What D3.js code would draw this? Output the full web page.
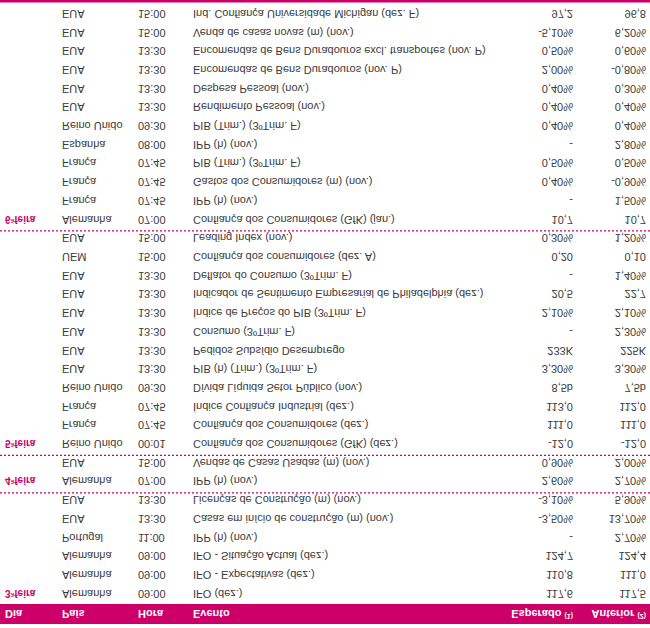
<!DOCTYPE html>
<html>
<head>
<meta charset="utf-8">
<script src="https://cdn.jsdelivr.net/npm/d3@7"></script>
<style>
  html, body { margin: 0; padding: 0; background: #fff; }
  svg { display: block; }
</style>
</head>
<body>
<div id="chart"></div>
<script>
// ---- data (table order, top to bottom before the vertical flip) ----
const headers = ["Dia", "País", "Hora", "Evento", "Esperado", "Anterior"];
const headerNotes = ["", "", "", "", "(1)", "(2)"];

const days = [
  "3ªfeira","","","","","",
  "4ªfeira","",
  "5ªfeira","","","","","","","","","","","",
  "6ªfeira","","","","","","","","","","",""
];
const countries = [
  "Alemanha","Alemanha","Alemanha","Portugal","EUA","EUA",
  "Alemanha","EUA",
  "Reino Unido","França","França","Reino Unido","EUA","EUA","EUA","EUA","EUA","EUA","UEM","EUA",
  "Alemanha","França","França","França","Espanha","Reino Unido","EUA","EUA","EUA","EUA","EUA","EUA"
];
const times = [
  "09:00","09:00","09:00","11:00","13:30","13:30",
  "07:00","15:00",
  "00:01","07:45","07:45","09:30","13:30","13:30","13:30","13:30","13:30","13:30","15:00","15:00",
  "07:00","07:45","07:45","07:45","08:00","09:30","13:30","13:30","13:30","13:30","15:00","15:00"
];
const events = [
  "IFO (dez.)",
  "IFO - Expectativas (dez.)",
  "IFO - Situação Actual (dez.)",
  "IPP (h) (nov.)",
  "Casas em início de construção (m) (nov.)",
  "Licenças de Construção (m) (nov.)",
  "IPP (h) (nov.)",
  "Vendas de Casas Usadas (m) (nov.)",
  "Confiança dos Consumidores (GfK) (dez.)",
  "Confiança dos Consumidores (dez.)",
  "Índice Confiança Industrial (dez.)",
  "Dívida Líquida Setor Público (nov.)",
  "PIB (h) (Trim.) (3ºTrim. F)",
  "Pedidos Subsídio Desemprego",
  "Consumo (3ºTrim. F)",
  "Índice de Preços do PIB (3ºTrim. F)",
  "Indicador de Sentimento Empresarial de Philadelphia (dez.)",
  "Deflator do Consumo (3ºTrim. F)",
  "Confiança dos consumidores (dez. A)",
  "Leading Index (nov.)",
  "Confiança dos Consumidores (GfK) (jan.)",
  "IPP (h) (nov.)",
  "Gastos dos Consumidores (m) (nov.)",
  "PIB (Trim.) (3ºTrim. F)",
  "IPP (h) (nov.)",
  "PIB (Trim.) (3ºTrim. F)",
  "Rendimento Pessoal (nov.)",
  "Despesa Pessoal (nov.)",
  "Encomendas de Bens Duradouros (nov. P)",
  "Encomendas de Bens Duradouros excl. transportes (nov. P)",
  "Venda de casas novas (m) (nov.)",
  "Ind. Confiança Universidade Michigan (dez. F)"
];
const expected = [
  "117,6","110,8","124,7","-","-3,50%","-3,10%",
  "2,60%","0,90%",
  "-12,0","111,0","113,0","8,5b","3,30%","233K","-","2,10%","20,5","-","0,20","0,30%",
  "10,7","-","0,40%","0,50%","-","0,40%","0,40%","0,40%","2,00%","0,50%","-5,10%","97,2"
];
const previous = [
  "117,5","111,0","124,4","2,70%","13,70%","5,90%",
  "2,70%","2,00%",
  "-12,0","111,0","112,0","7,5b","3,30%","225K","2,30%","2,10%","22,7","1,40%","0,10","1,20%",
  "10,7","1,50%","-0,90%","0,50%","2,80%","0,40%","0,40%","0,30%","-0,80%","0,60%","6,20%","96,8"
];

// ---- drawing ----
const W = 650, H = 628;
const MAGENTA = "#cc0068";
const TEXT = "#3a3a3a";
const FONT = "'Liberation Sans', Arial, Helvetica, sans-serif";

const svg = d3.select("#chart").append("svg")
  .attr("width", W).attr("height", H);

// The reference shows the table mirrored vertically.
const g = svg.append("g").attr("transform", `translate(0,${H}) scale(1,-1)`);

const rows = d3.range(events.length);
const y = d3.scaleBand().domain(rows).range([25, 623.5]).padding(0);

const colKeys = ["day", "country", "time", "event", "exp", "prev"];
const x = d3.scaleOrdinal().domain(colKeys).range([5, 62, 138, 193, 573, 646]);
const anchor = d3.scaleOrdinal().domain(colKeys)
  .range(["start", "start", "start", "start", "end", "end"]);

// header bar
g.append("rect").attr("x", 0).attr("y", 4).attr("width", W).attr("height", 20)
  .attr("fill", MAGENTA);

const hdr = g.append("g").attr("font-family", FONT).attr("font-size", 11)
  .attr("font-weight", "bold").attr("fill", "#fff");
colKeys.forEach((k, i) => {
  const t = hdr.append("text")
    .attr("x", x(k) - (headerNotes[i] ? 0 : 0))
    .attr("y", 18)
    .attr("text-anchor", anchor(k));
  t.append("tspan").text(headers[i]);
  if (headerNotes[i]) {
    t.append("tspan").text(" ");
    t.append("tspan").attr("font-size", 7).attr("dy", -4).text(headerNotes[i]);
  }
});

// bottom border line
g.append("rect").attr("x", 0).attr("y", 625.5).attr("width", W).attr("height", 2.5)
  .attr("fill", MAGENTA);

// day separators (dotted)
rows.forEach(i => {
  if (i > 0 && days[i]) {
    g.append("line")
      .attr("x1", 0).attr("x2", W)
      .attr("y1", y(i) - 2).attr("y2", y(i) - 2)
      .attr("stroke", MAGENTA).attr("stroke-width", 1.2)
      .attr("stroke-dasharray", "2,2");
  }
});

// body rows
const body = g.append("g").attr("font-family", FONT).attr("font-size", 11);
const cols = [
  ["day", days], ["country", countries], ["time", times],
  ["event", events], ["exp", expected], ["prev", previous]
];
cols.forEach(([k, arr]) => {
  body.selectAll(null).data(rows).enter().append("text")
    .attr("x", x(k))
    .attr("y", i => y(i) + y.bandwidth() / 2 + 4)
    .attr("text-anchor", anchor(k))
    .attr("fill", k === "day" ? MAGENTA : TEXT)
    .attr("font-weight", k === "day" ? "bold" : "normal")
    .attr("font-size", k === "day" ? 10 : 11)
    .text(i => arr[i]);
});
</script>
</body>
</html>
